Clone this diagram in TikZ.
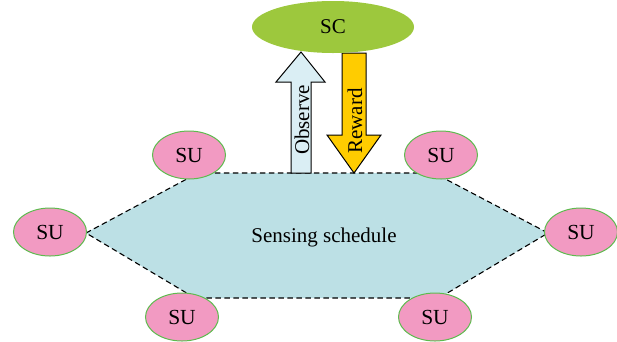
\documentclass[tikz,border=0pt]{standalone}
\usepackage{fontspec}
\setmainfont{Liberation Serif}
\usetikzlibrary{shapes.geometric}
\definecolor{scgreen}{HTML}{9DC83D}
\definecolor{supink}{HTML}{F29AC2}
\definecolor{suedge}{HTML}{5DBB4E}
\definecolor{schedfill}{HTML}{BCE0E5}
\definecolor{obsfill}{HTML}{DAEEF4}
\definecolor{rewfill}{HTML}{FFCC00}
\tikzset{
  su/.style={ellipse, draw=suedge, line width=1pt, fill=supink,
    minimum width=73pt, minimum height=48pt, inner sep=0pt,
    font=\fontsize{21.5}{25}\selectfont},
  sc/.style={ellipse, fill=scgreen, minimum width=162pt, minimum height=52pt,
    inner sep=0pt, font=\fontsize{21}{25}\selectfont},
  lbl/.style={inner sep=0pt, font=\fontsize{21}{25}\selectfont},
  bigarrow/.style={draw=black, line width=1pt, line join=miter},
  sched/.style={fill=schedfill, draw=black, line width=1.1pt,
    dash pattern=on 5.5pt off 3.5pt}
}
\begin{document}
\begin{tikzpicture}[x=1pt, y=-1pt]
\useasboundingbox (0,0) rectangle (617,341);
% schedule hexagon corners
\coordinate (hl) at (86,233);
\coordinate (htl) at (198,173);
\coordinate (htr) at (434,173);
\coordinate (hr) at (548,233);
\coordinate (hbr) at (439,298);
\coordinate (hbl) at (195,298);
\path[sched] (hl) -- (htl) -- (htr) -- (hr) -- (hbr) -- (hbl) -- cycle;
\node[lbl] (sched) at (324,237) {Sensing schedule};

% observe arrow (upwards)
\path[bigarrow, fill=obsfill]
  (291,173) -- (291,82) -- (276,82) -- (301,52) -- (325,82) -- (311,82) -- (311,173) -- cycle;
\node[lbl, rotate=90] (obs) at (302,120) {Observe};

% reward arrow (downwards)
\path[bigarrow, fill=rewfill]
  (342,53) -- (342,135) -- (327,135) -- (354,173) -- (381,135) -- (366,135) -- (366,53) -- cycle;
\node[lbl, rotate=90] (rew) at (355,121) {Reward};

% controller
\node[sc] (sc) at (333,27) {SC};

% sensing users
\node[su] (su1) at (189,155) {SU};
\node[su] (su2) at (441,155) {SU};
\node[su] (su3) at (50,232) {SU};
\node[su] (su4) at (581,232) {SU};
\node[su] (su5) at (182,317) {SU};
\node[su] (su6) at (435,317) {SU};
\end{tikzpicture}
\end{document}
